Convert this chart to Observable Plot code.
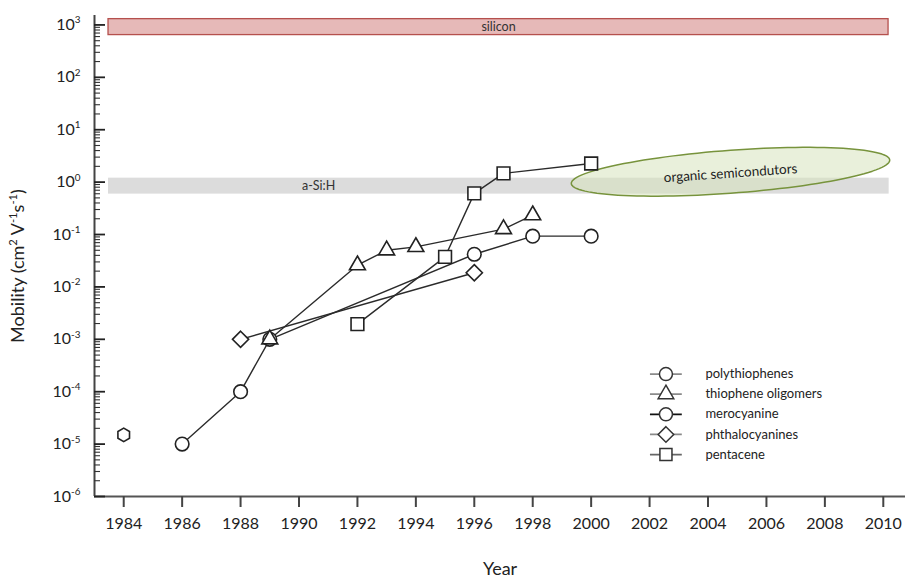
<!DOCTYPE html>
<html>
<head>
<meta charset="utf-8">
<script src="https://cdn.jsdelivr.net/npm/d3@7"></script>
<script src="https://cdn.jsdelivr.net/npm/@observablehq/plot@0.6"></script>
<style>
  body { margin: 0; background: #fff; }
  svg { display: block; }
</style>
</head>
<body>
<div id="chart"></div>
<script>
// ---------------- data ----------------
const tickYears = [1984, 1986, 1988, 1990, 1992, 1994, 1996, 1998, 2000, 2002, 2004, 2006, 2008, 2010];
const decades = [-6, -5, -4, -3, -2, -1, 0, 1, 2, 3];

const seriesNames = ["polythiophenes", "thiophene oligomers", "merocyanine", "phthalocyanines", "pentacene"];

const polyYears = [1986, 1988, 1989, 1996, 1998, 2000];
const polyValues = [1.0e-5, 1.0e-4, 1.0e-3, 0.042, 0.093, 0.093];

const oligoYears = [1989, 1992, 1993, 1994, 1997, 1998];
const oligoValues = [1.0e-3, 0.026, 0.050, 0.058, 0.127, 0.234];

const meroYears = [1984];
const meroValues = [1.5e-5];

const phthaloYears = [1988, 1996];
const phthaloValues = [1.0e-3, 0.0186];

const pentaYears = [1992, 1995, 1996, 1997, 2000];
const pentaValues = [0.00195, 0.0375, 0.61, 1.47, 2.27];

// reference bands (mobility ranges)
const bandLabels = ["silicon", "a-Si:H"];
const bandStartYear = [1983.48, 1983.48];
const bandEndYear = [2010.18, 2010.2];
const bandLow = [640, 0.59];
const bandHigh = [1290, 1.19];
const bandLabelYear = [1996.83, 1990.67];

// organic semiconductors ellipse annotation
const ellipseLabel = "organic semicondutors";
const ellipseCenterYear = 2004.77;
const ellipseCenterValue = 1.576;
const ellipseHalfYears = 5.45;
const ellipseHalfDecades = 0.41;
const ellipseTilt = 0.0407;       // decades per year
const ellipseLabelValue = 1.47;

// ---------------- build ----------------
const rows = (ys, vs) => ys.map((y, i) => ({year: y, value: vs[i]}));
const bands = bandLabels.map((label, i) => ({
  label, start: bandStartYear[i], end: bandEndYear[i], low: bandLow[i], high: bandHigh[i],
  labelYear: bandLabelYear[i], labelValue: Math.sqrt(bandLow[i] * bandHigh[i])
}));

const ellipse = d3.range(0, 361, 3).map(deg => {
  const a = deg * Math.PI / 180;
  const dxy = ellipseHalfYears * Math.cos(a);
  return {
    year: ellipseCenterYear + dxy,
    value: 10 ** (Math.log10(ellipseCenterValue) + ellipseHalfDecades * Math.sin(a) + ellipseTilt * dxy)
  };
});

const majorTicks = decades.map(e => 10 ** e);
const minorTicks = [];
for (const e of decades.slice(0, -1)) for (let m = 2; m <= 9; m++) minorTicks.push(m * 10 ** e);

const xDomain = [1983, 2010.76];
const yDomain = [1e-6, 10 ** 3.18];

const series = [
  {data: rows(polyYears, polyValues), symbol: "circle", r: 6.8, line: true},
  {data: rows(oligoYears, oligoValues), symbol: "triangle", r: 5.9, line: true},
  {data: rows(meroYears, meroValues), symbol: "hexagon", r: 5.8, line: false},
  {data: rows(phthaloYears, phthaloValues), symbol: "diamond2", r: 7.3, line: true},
  {data: rows(pentaYears, pentaValues), symbol: "square", r: 7.2, line: true}
];

// legend
const legendSymbols = ["circle", "triangle", "circle", "diamond2", "square"];
const legendR = [6.5, 5.8, 6.5, 7.0, 6.8];
const legendLineColor = ["#8a8a8a", "#8a8a8a", "#111", "#8a8a8a", "#666"];
const legendTopValue = 2.17e-4;
const legendStepDecades = 0.384;
const legendLineStart = 2002.03, legendLineEnd = 2003.12, legendSymbolYear = 2002.56, legendTextYear = 2003.91;
const legendRows = seriesNames.map((name, i) => ({name, value: legendTopValue * 10 ** (-i * legendStepDecades)}));

const marks = [
  // bands
  Plot.rect(bands.slice(0, 1), {x1: "start", x2: "end", y1: "low", y2: "high", fill: "#e6b9b8", stroke: "#b5504d", strokeWidth: 1.3}),
  Plot.rect(bands.slice(1), {x1: "start", x2: "end", y1: "low", y2: "high", fill: "#dcdcdc"}),
  Plot.text(bands, {x: "labelYear", y: "labelValue", text: "label", fontSize: 12.5, fill: "#333"}),
  // ellipse
  Plot.line(ellipse, {x: "year", y: "value", fill: "#d7e4bd", fillOpacity: 0.55, stroke: "#77933c", strokeWidth: 1.5, curve: "linear"}),
  Plot.text([ellipseLabel], {x: ellipseCenterYear, y: ellipseLabelValue, text: d => d, rotate: -4, fontSize: 13.5, fill: "#222"}),
  // axes lines
  Plot.ruleX([xDomain[0]], {stroke: "#444", strokeWidth: 2}),
  Plot.ruleY([yDomain[0]], {stroke: "#555", strokeWidth: 2}),
  // y axis ticks
  Plot.axisY(minorTicks, {tickSize: 6, dx: 6, tickFormat: () => "", label: null, stroke: "#333", strokeWidth: 1.1}),
  Plot.axisY(majorTicks, {tickSize: 11, dx: 11, tickPadding: 14, label: null, stroke: "#222", strokeWidth: 1.8,
    tickFormat: d => "10^" + Math.round(Math.log10(d)), fontSize: 16, fill: "#222"}),
  // x axis
  Plot.axisX(tickYears, {tickSize: 11, tickPadding: 10, label: null, stroke: "#444", strokeWidth: 2,
    tickFormat: d => String(d), fontSize: 16, fill: "#222"}),
  // titles
  Plot.text(["Year"], {frameAnchor: "bottom", dy: 73, lineAnchor: "middle", textAnchor: "middle", text: d => d, fontSize: 18, fill: "#222"}),
  Plot.text(["Mobility (cm^2 V^-1s^-1)"], {frameAnchor: "left", dx: -76, dy: 10, rotate: -90, textAnchor: "middle", lineAnchor: "middle", text: d => d, fontSize: 18, fill: "#222"})
];

// series lines
for (const s of series) if (s.line) marks.push(Plot.line(s.data, {x: "year", y: "value", stroke: "#2b2b2b", strokeWidth: 1.4}));
// series markers
for (const s of series) marks.push(Plot.dot(s.data, {x: "year", y: "value", symbol: s.symbol, r: s.r, fill: "white", stroke: "#222", strokeWidth: 1.6}));

// legend marks
legendRows.forEach((row, i) => {
  marks.push(Plot.ruleY([row], {y: "value", x1: legendLineStart, x2: legendLineEnd, stroke: legendLineColor[i], strokeWidth: 1.8}));
  marks.push(Plot.dot([row], {x: () => legendSymbolYear, y: "value", symbol: legendSymbols[i], r: legendR[i], fill: "white", stroke: "#333", strokeWidth: 1.5}));
  marks.push(Plot.text([row], {x: () => legendTextYear, y: "value", text: "name", textAnchor: "start", fontSize: 13, fill: "#222"}));
});

const chart = Plot.plot({
  width: 905,
  height: 579,
  marginLeft: 94,
  marginRight: 0,
  marginTop: 15,
  marginBottom: 83,
  style: {fontFamily: "Lato, 'Open Sans', sans-serif", background: "#fff", color: "#222"},
  x: {domain: xDomain, axis: null},
  y: {type: "log", domain: yDomain, axis: null},
  marks
});

document.getElementById("chart").appendChild(chart);

// convert "^x" into superscript tspans (real text)
d3.select(chart).selectAll("text").each(function () {
  const el = this;
  const target = el.querySelector("tspan") || el;
  const t = target.textContent;
  if (!t.includes("^")) return;
  const size = parseFloat(getComputedStyle(el).fontSize) || 16;
  const parts = t.split(/(\^-?\d+)/).filter(p => p.length);
  target.textContent = "";
  let raised = false;
  for (const p of parts) {
    const ts = document.createElementNS("http://www.w3.org/2000/svg", "tspan");
    if (p.startsWith("^")) {
      ts.textContent = p.slice(1);
      ts.setAttribute("font-size", (size * 0.62).toFixed(1));
      ts.setAttribute("dy", raised ? "0" : (-size * 0.42).toFixed(1));
      raised = true;
    } else {
      ts.textContent = p;
      if (raised) { ts.setAttribute("dy", (size * 0.42).toFixed(1)); raised = false; }
    }
    target.appendChild(ts);
  }
});
</script>
</body>
</html>
